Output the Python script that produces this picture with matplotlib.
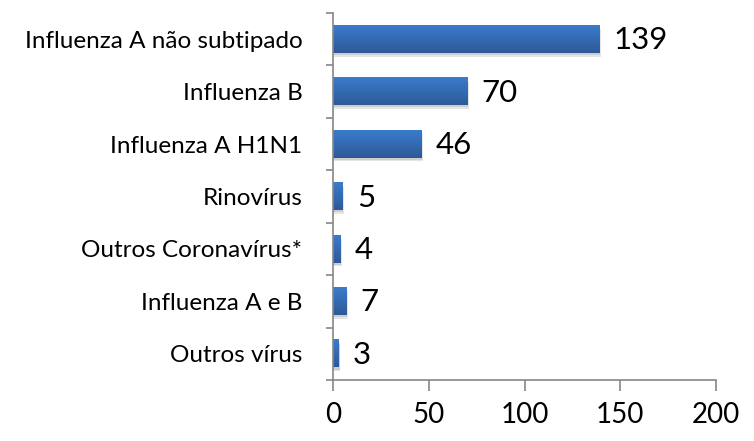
import numpy as np
import matplotlib
matplotlib.use('Agg')
import matplotlib.pyplot as plt
from matplotlib.colors import LinearSegmentedColormap

categories = ['Influenza A não subtipado', 'Influenza B', 'Influenza A H1N1', 'Rinovírus',
              'Outros Coronavírus*', 'Influenza A e B', 'Outros vírus']
values = [139, 70, 46, 5, 4, 7, 3]
x_ticks = [0, 50, 100, 150, 200]

plt.rcParams['font.family'] = ['Lato', 'DejaVu Sans']

fig = plt.figure(figsize=(7.54, 4.41), dpi=100)
ax = fig.add_axes([333 / 754, 1 - 380 / 441, (716 - 333) / 754, (380 - 13) / 441])

n = len(categories)
ypos = np.arange(n)[::-1]
bar_h = 0.52
grad = LinearSegmentedColormap.from_list('bar', ['#2d5a97', '#3b7bcc'])

for y, v in zip(ypos, values):
    # soft shadow under each bar
    ax.barh(y - 0.07, v + 0.9, height=bar_h, left=0, color='#000000', alpha=0.10, zorder=1, linewidth=0)
    ax.barh(y - 0.04, v + 0.4, height=bar_h, left=0, color='#000000', alpha=0.10, zorder=1, linewidth=0)
    ax.imshow(np.linspace(0, 1, 50).reshape(-1, 1), cmap=grad, aspect='auto',
              extent=(0, v, y - bar_h / 2, y + bar_h / 2), zorder=2, origin='lower')
    ax.text(v + 7.5, y - 0.02, str(v), va='center', ha='left', fontsize=22.5, color='black')

ax.set_xlim(0, 200)
ax.set_ylim(-0.5, n - 0.5)
ax.set_xticks(x_ticks)
ax.set_xticklabels([str(t) for t in x_ticks], fontsize=20)
ax.set_yticks(ypos)
ax.set_yticklabels(categories, fontsize=17.5)
ax.set_yticks(np.arange(-0.5, n, 1.0), minor=True)
ax.tick_params(axis='y', which='major', length=0, pad=22)
ax.tick_params(axis='y', which='minor', length=5, color='#868686', width=1.2)
ax.tick_params(axis='x', length=8, color='#868686', width=1.2, pad=8)

for s in ['top', 'right']:
    ax.spines[s].set_visible(False)
for s in ['left', 'bottom']:
    ax.spines[s].set_color('#868686')
    ax.spines[s].set_linewidth(1.2)

fig.savefig('out.png', dpi=100)
